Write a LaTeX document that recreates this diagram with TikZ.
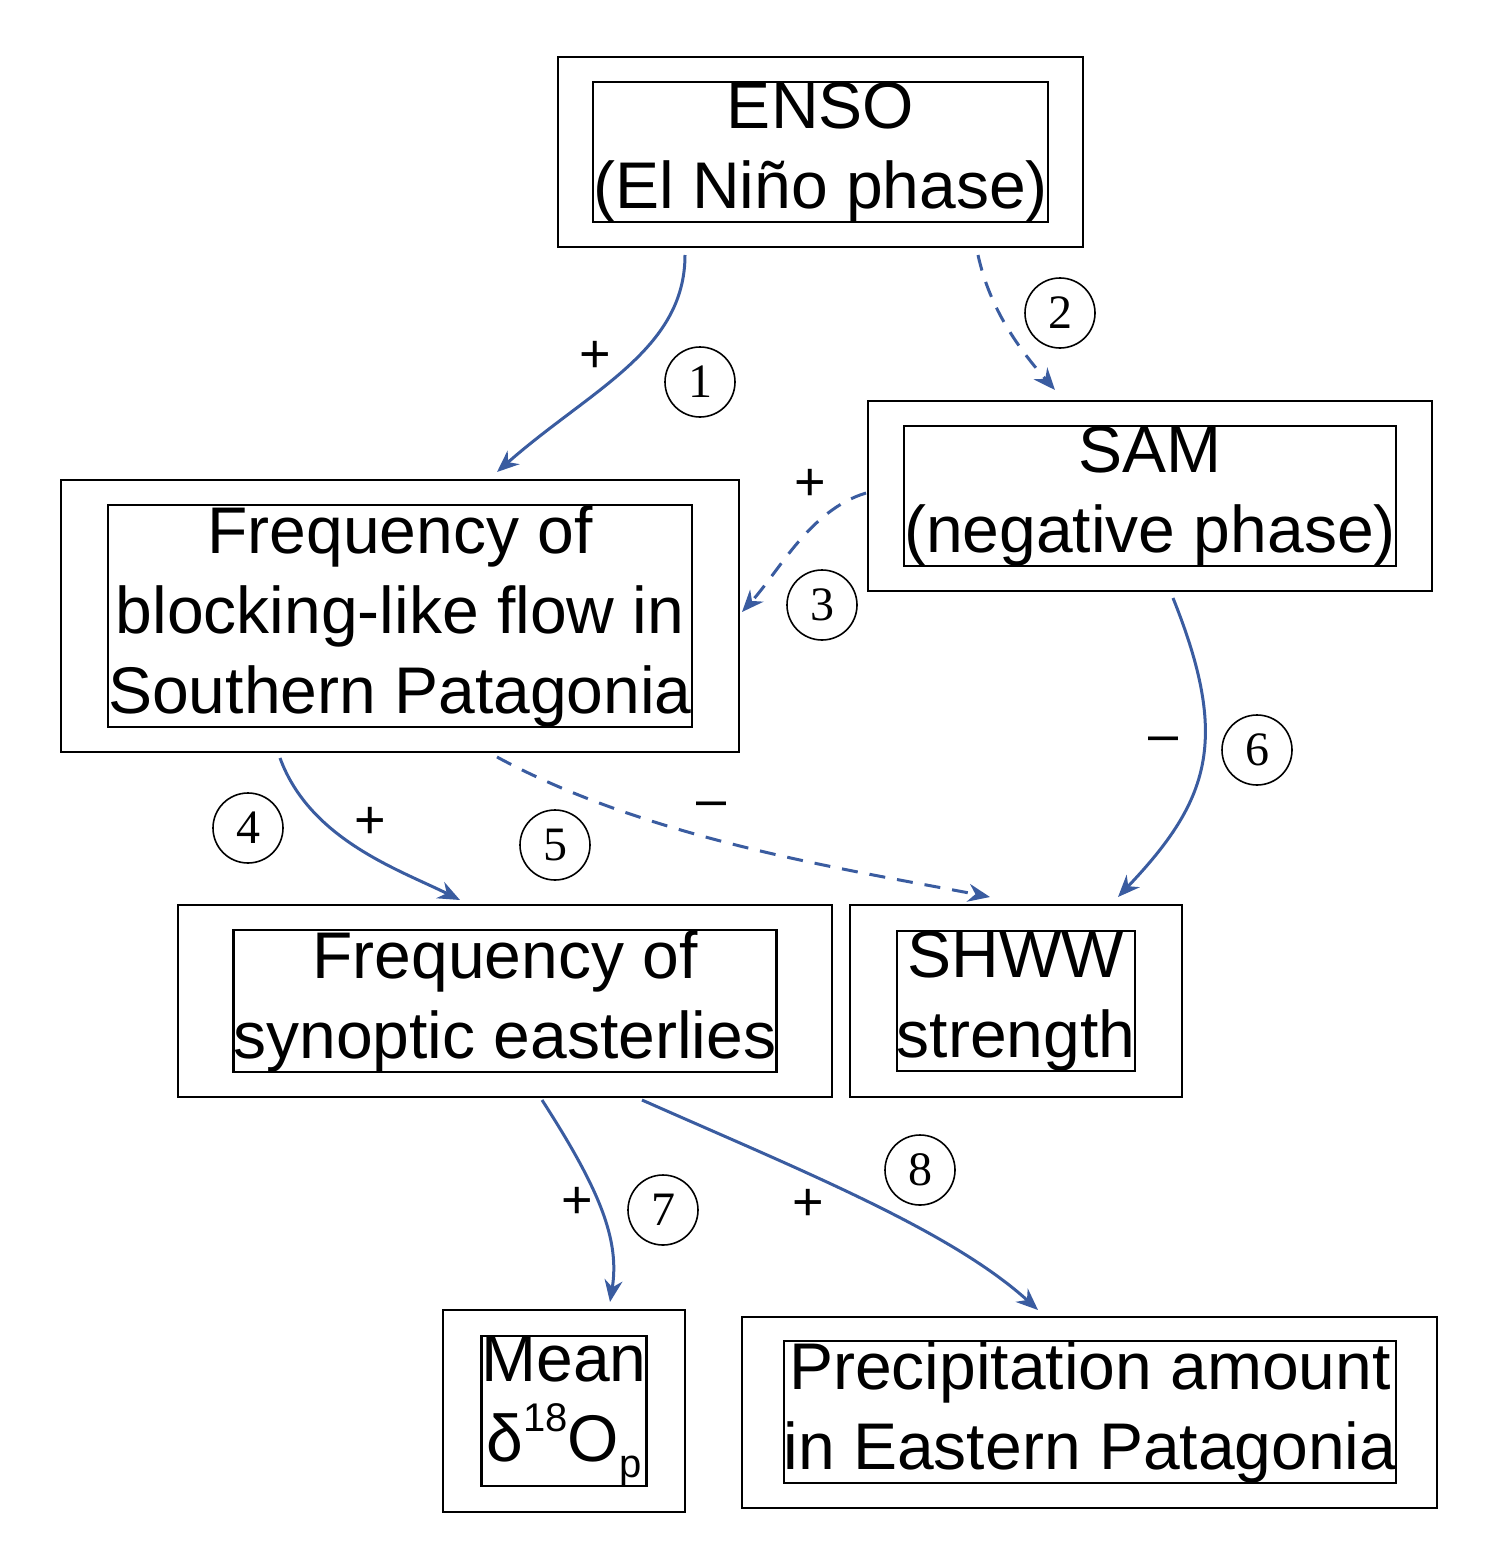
\documentclass[tikz,border=0pt]{standalone}
\usepackage{fontspec}
\setmainfont{Liberation Sans}
\newfontfamily\numfont{Liberation Serif}
\usetikzlibrary{arrows.meta}
\definecolor{ab}{RGB}{58,92,160}
\begin{document}
\begin{tikzpicture}[x=1pt,y=-1pt,
  box/.style={draw,line width=2.2pt,inner sep=0,font=\fontsize{66}{80}\selectfont,align=center},
  arr/.style={draw=ab,line width=3pt,-{Stealth[length=22pt,width=18pt]}},
  dsh/.style={arr,dash pattern=on 16pt off 12pt},
  num/.style={draw,circle,line width=1.6pt,minimum size=70pt,inner sep=0,font=\numfont\fontsize{48}{48}\selectfont},
  sg/.style={font=\fontsize{54}{54}\selectfont}]
\useasboundingbox (0,0) rectangle (1484,1565);
\draw[line width=2.2pt] (558,57) rectangle (1083,247);
\node[box] (enso) at (820.5,152) {ENSO\\(El Niño phase)};
\draw[line width=2.2pt] (868,401) rectangle (1432,591);
\node[box] (sam) at (1150,496) {SAM\\(negative phase)};
\draw[line width=2.2pt] (61,480) rectangle (739,752);
\node[box] (blk) at (400,616) {Frequency of\\blocking-like flow in\\Southern Patagonia};
\draw[line width=2.2pt] (178,905) rectangle (832,1097);
\node[box] (syn) at (505,1001) {Frequency of\\synoptic easterlies};
\draw[line width=2.2pt] (850,905) rectangle (1182,1097);
\node[box] (shww) at (1016,1001) {SHWW\\strength};
\draw[line width=2.2pt] (443,1310) rectangle (685,1512);
\node[box] (mean) at (564,1411) {Mean\\δ\raisebox{0.45em}{\fontsize{40}{40}\selectfont 18}O\raisebox{-0.25em}{\fontsize{40}{40}\selectfont p}};
\draw[line width=2.2pt] (742,1317) rectangle (1437,1508);
\node[box] (pre) at (1090,1412) {Precipitation amount\\in Eastern Patagonia};
% endpoints
\coordinate (e1) at (685,255); \coordinate (b1) at (497,472);
\coordinate (e2) at (978,255); \coordinate (s2) at (1055,390);
\coordinate (s3) at (866,493); \coordinate (b3) at (742,612);
\coordinate (b4) at (280,758); \coordinate (y4) at (460,900);
\coordinate (b5) at (497,757); \coordinate (w5) at (990,897);
\coordinate (s6) at (1173,598); \coordinate (w6) at (1118,897);
\coordinate (y7) at (542,1100); \coordinate (m7) at (610,1302);
\coordinate (y8) at (642,1100); \coordinate (p8) at (1038,1310);
\draw[arr] (e1) .. controls (685,350) and (590,390) .. (b1);
\draw[dsh] (e2) .. controls (990,310) and (1020,350) .. (s2);
\draw[dsh] (s3) .. controls (810,510) and (780,570) .. (b3);
\draw[arr] (b4) .. controls (310,840) and (400,870) .. (y4);
\draw[dsh] (b5) .. controls (650,840) and (850,870) .. (w5);
\draw[arr] (s6) .. controls (1230,740) and (1210,800) .. (w6);
\draw[arr] (y7) .. controls (600,1190) and (620,1240) .. (m7);
\draw[arr] (y8) .. controls (800,1170) and (950,1230) .. (p8);
% labels
\node[sg] (p1) at (595,357) {+};
\node[num] (n1) at (700,382) {1};
\node[num] (n2) at (1060,313) {2};
\node[sg] (p3) at (810,485) {+};
\node[num] (n3) at (822,605) {3};
\node[num] (n4) at (248,828) {4};
\node[sg] (p4) at (370,823) {+};
\node[num] (n5) at (555,845) {5};
\node[sg] (m5) at (712,810) {–};
\node[sg] (m6) at (1163,745) {–};
\node[num] (n6) at (1257,750) {6};
\node[sg] (p7) at (577,1203) {+};
\node[num] (n7) at (663,1210) {7};
\node[sg] (p8l) at (808,1205) {+};
\node[num] (n8) at (920,1170) {8};
\end{tikzpicture}
\end{document}
